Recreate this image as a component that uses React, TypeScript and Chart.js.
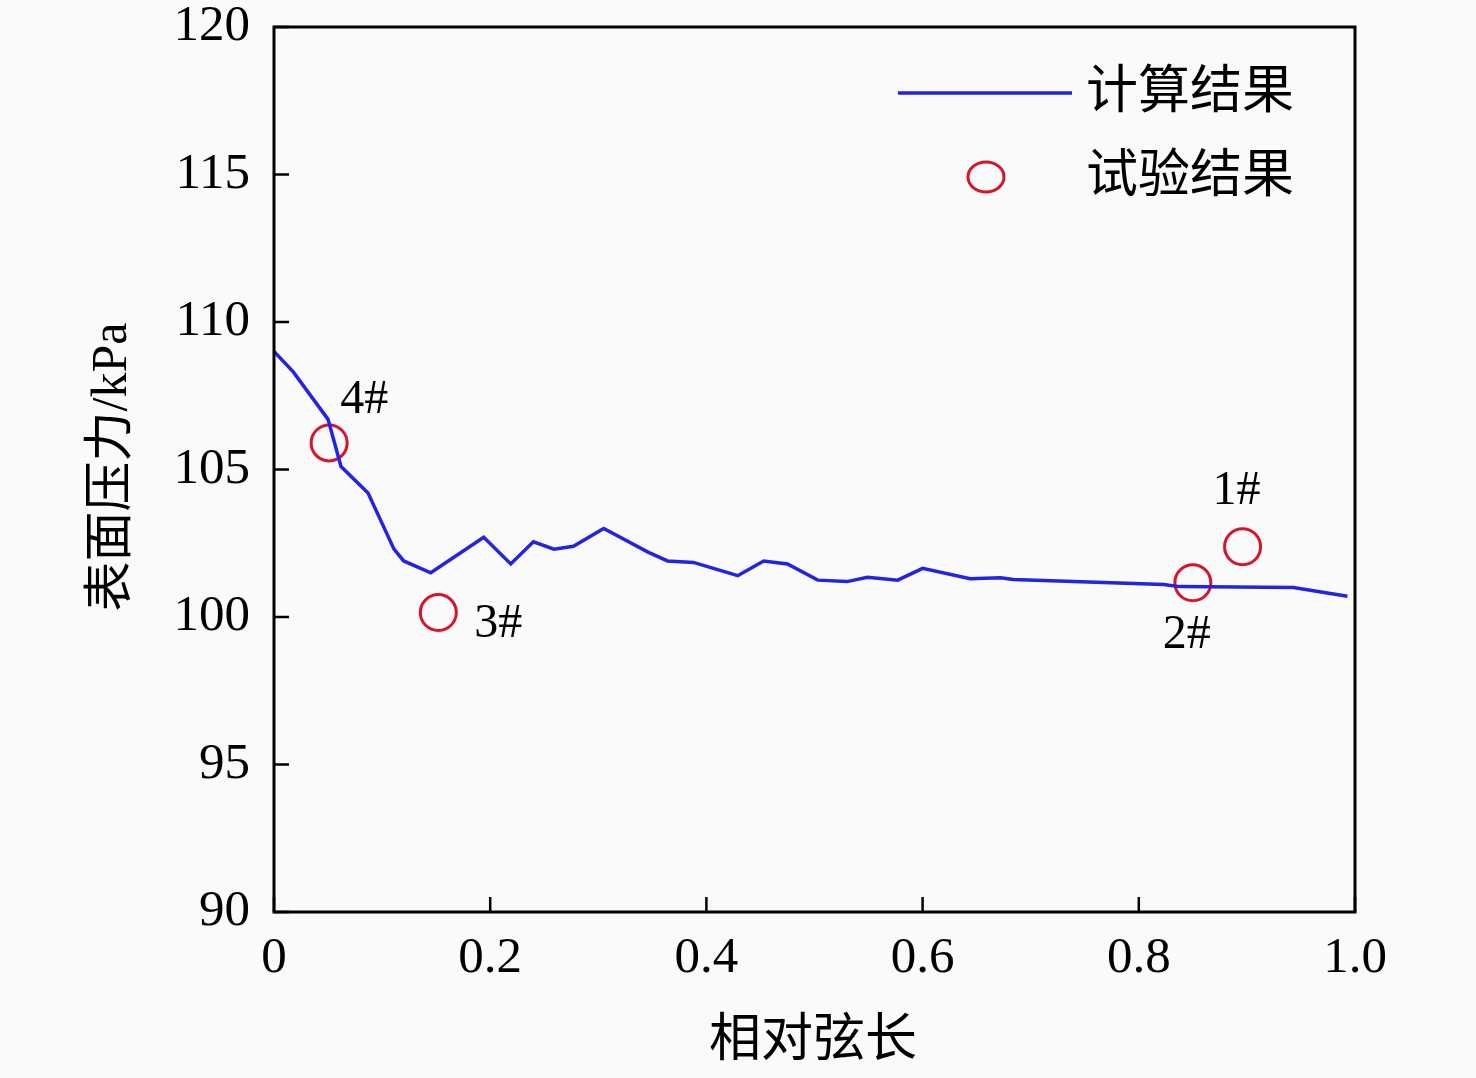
import { useEffect, useRef } from "react"
import { Chart, registerables } from "chart.js"

Chart.register(...registerables)

// 计算结果（曲线）
const chordPos = [
  0, 0.018, 0.05, 0.062, 0.087, 0.111, 0.12, 0.145, 0.194, 0.219, 0.24, 0.259, 0.277, 0.305,
  0.346, 0.364, 0.388, 0.429, 0.453, 0.475, 0.503, 0.53, 0.549, 0.577, 0.6, 0.644, 0.672,
  0.684, 0.823, 0.838, 0.943, 0.993,
]
const calcPressure = [
  109.0, 108.3, 106.7, 105.1, 104.2, 102.3, 101.9, 101.5, 102.7, 101.8, 102.55, 102.3, 102.4, 103.0,
  102.2, 101.9, 101.85, 101.4, 101.9, 101.8, 101.25, 101.2, 101.35, 101.25, 101.65, 101.3, 101.33,
  101.27, 101.1, 101.03, 101.0, 100.7,
]

// 试验结果（测点）
const testPos = [0.051, 0.152, 0.85, 0.896]
const testPressure = [105.9, 100.15, 101.16, 102.38]
const testLabels = ["4#", "3#", "2#", "1#"]

const xTicks = [0, 0.2, 0.4, 0.6, 0.8, 1.0]
const xTickLabels = ["0", "0.2", "0.4", "0.6", "0.8", "1.0"]
const yTicks = [90, 95, 100, 105, 110, 115, 120]
const seriesNames = ["计算结果", "试验结果"]

const serif = "'Liberation Serif', 'Times New Roman', 'Noto Sans CJK SC', serif"
const lineColor = "rgb(35, 35, 225)"
const markColor = "rgb(215, 20, 40)"

// 测点标签相对测点的偏移
const labelOffsets = [
  [35, -43],
  [60, 12],
  [-6, 53],
  [-6, -55],
]

const decorPlugin = {
  id: "decor",
  beforeDraw(chart: Chart) {
    const { ctx, width, height } = chart
    ctx.save()
    ctx.fillStyle = "#fafafa"
    ctx.fillRect(0, 0, width, height)
    ctx.restore()
  },
  afterDraw(chart: Chart) {
    const { ctx, chartArea } = chart
    const { left, right, top, bottom } = chartArea
    const x = chart.scales.x
    const y = chart.scales.y
    ctx.save()

    // 边框
    ctx.strokeStyle = "#000"
    ctx.lineWidth = 3
    ctx.strokeRect(left, top, right - left, bottom - top)

    // 内向刻度
    ctx.lineWidth = 2.5
    ctx.beginPath()
    yTicks.forEach(v => {
      const py = y.getPixelForValue(v)
      ctx.moveTo(left, py)
      ctx.lineTo(left + 15, py)
    })
    xTicks.forEach(v => {
      const px = x.getPixelForValue(v)
      ctx.moveTo(px, bottom)
      ctx.lineTo(px, bottom - 15)
    })
    ctx.stroke()

    // 测点标签
    ctx.fillStyle = "#000"
    ctx.font = `48px ${serif}`
    ctx.textAlign = "center"
    ctx.textBaseline = "middle"
    testLabels.forEach((t, i) => {
      const px = x.getPixelForValue(testPos[i]) + labelOffsets[i][0]
      const py = y.getPixelForValue(testPressure[i]) + labelOffsets[i][1]
      ctx.fillText(t, px, py)
    })

    // 图例
    ctx.strokeStyle = lineColor
    ctx.lineWidth = 3.5
    ctx.beginPath()
    ctx.moveTo(898, 93)
    ctx.lineTo(1072, 93)
    ctx.stroke()
    ctx.strokeStyle = markColor
    ctx.lineWidth = 3
    ctx.beginPath()
    ctx.ellipse(986, 177, 18, 15, 0, 0, Math.PI * 2)
    ctx.stroke()
    ctx.font = `52px ${serif}`
    ctx.textAlign = "left"
    ctx.fillText(seriesNames[0], 1086, 94)
    ctx.fillText(seriesNames[1], 1086, 178)

    // 坐标轴标题
    ctx.textAlign = "center"
    ctx.font = `52px ${serif}`
    ctx.fillText("相对弦长", 813, 1042)
    ctx.translate(113, 467)
    ctx.rotate(-Math.PI / 2)
    ctx.font = `50px ${serif}`
    ctx.fillText("表面压力/kPa", 0, 0)

    ctx.restore()
  },
}

export default function App() {
  const canvasRef = useRef<HTMLCanvasElement>(null)
  const chartRef = useRef<Chart | null>(null)

  useEffect(() => {
    if (!canvasRef.current) return
    if (chartRef.current) chartRef.current.destroy()
    const ctx = canvasRef.current.getContext("2d")
    if (!ctx) return

    chartRef.current = new Chart(ctx, {
      type: "line",
      data: {
        datasets: [
          {
            label: seriesNames[0],
            data: chordPos.map((v, i) => ({ x: v, y: calcPressure[i] })),
            borderColor: lineColor,
            borderWidth: 3.5,
            pointRadius: 0,
            tension: 0,
            fill: false,
          },
          {
            label: seriesNames[1],
            data: testPos.map((v, i) => ({ x: v, y: testPressure[i] })),
            showLine: false,
            pointRadius: 18,
            pointBorderWidth: 3,
            pointBorderColor: markColor,
            pointBackgroundColor: "rgba(0,0,0,0)",
            borderColor: markColor,
          },
        ],
      },
      options: {
        animation: false,
        responsive: true,
        maintainAspectRatio: false,
        layout: { padding: { top: 27, right: 121, left: 0, bottom: 0 } },
        plugins: {
          legend: { display: false },
          tooltip: { enabled: false },
        },
        scales: {
          x: {
            type: "linear",
            min: 0,
            max: 1,
            grid: { display: false, drawTicks: false },
            border: { display: false },
            afterBuildTicks: (scale: any) => {
              scale.ticks = xTicks.map(v => ({ value: v }))
            },
            afterFit: (scale: any) => {
              scale.height = 166
              scale.paddingLeft = 0
              scale.paddingRight = 0
            },
            ticks: {
              color: "#000",
              padding: 21,
              maxRotation: 0,
              font: { family: serif, size: 51, lineHeight: 1 },
              callback: (_v: any, i: number) => xTickLabels[i],
            },
          },
          y: {
            type: "linear",
            min: 90,
            max: 120,
            grid: { display: false, drawTicks: false },
            border: { display: false },
            afterBuildTicks: (scale: any) => {
              scale.ticks = yTicks.map(v => ({ value: v }))
            },
            afterFit: (scale: any) => {
              scale.width = 274
              scale.paddingTop = 0
              scale.paddingBottom = 0
            },
            ticks: {
              color: "#000",
              padding: 24,
              font: { family: serif, size: 51, lineHeight: 1 },
              callback: (v: any) => String(v),
            },
          },
        },
      },
      plugins: [decorPlugin],
    })

    return () => {
      if (chartRef.current) {
        chartRef.current.destroy()
        chartRef.current = null
      }
    }
  }, [])

  return (
    <div style={{ position: "absolute", left: 0, top: 0, width: 1476, height: 1078 }}>
      <canvas ref={canvasRef} />
    </div>
  )
}
